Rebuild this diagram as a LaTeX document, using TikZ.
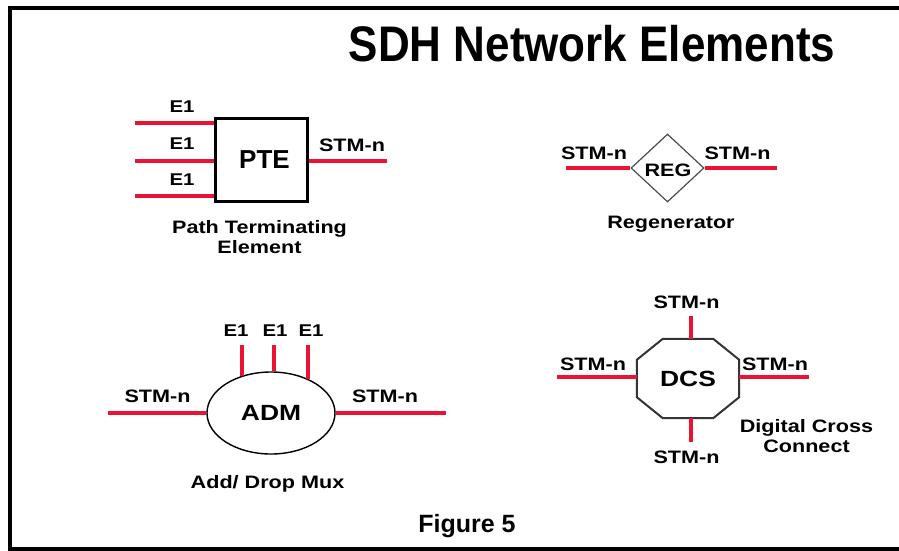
\documentclass[tikz,border=0pt]{standalone}
\usepackage{fontspec}
\setmainfont{Liberation Sans}
\newfontfamily\titlefont[FakeStretch=0.88]{Liberation Sans Bold}
\newfontfamily\lblfont[FakeStretch=1.2]{Liberation Sans Bold}
\usetikzlibrary{shapes.geometric}
\definecolor{sdhred}{RGB}{236,18,52}

\begin{document}
\begin{tikzpicture}[x=1pt, y=-1pt,
        sig/.style={draw=sdhred, line width=3.5pt},
        lbl/.style={font=\lblfont\fontsize{18}{20}\selectfont, inner sep=0pt, anchor=base},
        small/.style={font=\lblfont\fontsize{17}{19}\selectfont, inner sep=0pt, anchor=base},
        big/.style={font=\lblfont\fontsize{22}{24}\selectfont}]
    \useasboundingbox (0,0) rectangle (899,551);
    \draw[line width=4pt] (930,8.5) -- (10,8.5) -- (10,548.5) -- (930,548.5);
    \node[font=\titlefont\fontsize{50}{52}\selectfont, inner sep=0pt, anchor=base] (title) at (592,62) {SDH Network Elements};

    % path terminating element
    \node[draw, line width=2.5pt, minimum width=92pt, minimum height=83pt,
        font=\bfseries\fontsize{26}{28}\selectfont] (pte) at (261.5,160) {\hspace{6pt}PTE};
    \coordinate (e1a) at (135,123);
    \coordinate (e1b) at (135,161);
    \coordinate (e1c) at (135,196);
    \coordinate (pteout) at (387,161);
    \draw[sig] (e1a) -- (e1a -| pte.west);
    \draw[sig] (e1b) -- (e1b -| pte.west);
    \draw[sig] (e1c) -- (e1c -| pte.west);
    \draw[sig] (pte.east |- pteout) -- (pteout);
    \node[small] (e1alab) at (182,112) {E1};
    \node[small] (e1blab) at (182,149) {E1};
    \node[small] (e1clab) at (182,185) {E1};
    \node[lbl] (pteoutlab) at (352,151) {STM-n};
    \node[lbl] (ptecap1) at (259.5,233) {Path Terminating};
    \node[lbl] (ptecap2) at (259.5,253) {Element};

    % regenerator
    \node[diamond, draw=black!70, line width=1.2pt, inner sep=0pt, aspect=1.07,
        minimum width=73pt, minimum height=68pt] (reg) at (667.5,168) {};
    \node[lbl] (reglab) at (668,176) {REG};
    \coordinate (regl) at (566,168);
    \coordinate (regr) at (777,168);
    \draw[sig] (regl) -- (reg.west);
    \draw[sig] (reg.east) -- (regr);
    \node[lbl] (reglablft) at (594,159) {STM-n};
    \node[lbl] (reglabrgt) at (737.5,159) {STM-n};
    \node[lbl] (regcap) at (671,228) {Regenerator};

    % add/drop mux
    \node[ellipse, draw, line width=1.4pt, minimum width=128pt, minimum height=82pt, big] (adm) at (271,413) {ADM};
    \coordinate (adml) at (108,413);
    \coordinate (admr) at (446,413);
    \draw[sig] (adml) -- (adm.west);
    \draw[sig] (adm.east) -- (admr);
    \coordinate (tribl) at (242,345);
    \coordinate (tribm) at (274,345);
    \coordinate (tribr) at (308,345);
    \draw[sig] (tribl) -- (tribl |- adm.129);
    \draw[sig] (tribm) -- (tribm |- adm.86);
    \draw[sig] (tribr) -- (tribr |- adm.43);
    \node[small] (triblab) at (236,336) {E1};
    \node[small] (tribmlab) at (275,336) {E1};
    \node[small] (tribrlab) at (311,336) {E1};
    \node[lbl] (admllab) at (157.5,402) {STM-n};
    \node[lbl] (admrlab) at (385,402) {STM-n};
    \node[lbl] (admcap) at (267.5,488) {Add/ Drop Mux};

    % digital cross connect
    \node[minimum width=102pt, minimum height=79pt, big] (dcs) at (688,378.5) {DCS};
    \draw[black!80, line width=2pt] ([xshift=26pt]dcs.north west) -- ([xshift=-26pt]dcs.north east)
        -- ([yshift=-21pt]dcs.north east) -- ([yshift=21pt]dcs.south east)
        -- ([xshift=-26pt]dcs.south east) -- ([xshift=26pt]dcs.south west)
        -- ([yshift=21pt]dcs.south west) -- ([yshift=-21pt]dcs.north west) -- cycle;
    \coordinate (dcsl) at (557,377);
    \coordinate (dcsr) at (809,377);
    \coordinate (dcst) at (691,316);
    \coordinate (dcsb) at (691,442);
    \draw[sig] (dcsl) -- (dcsl -| dcs.west);
    \draw[sig] (dcsr -| dcs.east) -- (dcsr);
    \draw[sig] (dcst) -- (dcst |- dcs.north);
    \draw[sig] (dcsb |- dcs.south) -- (dcsb);
    \node[lbl] (dcstlab) at (686.5,308) {STM-n};
    \node[lbl] (dcsllab) at (593,370) {STM-n};
    \node[lbl] (dcsrlab) at (775,370) {STM-n};
    \node[lbl] (dcsblab) at (686.5,463) {STM-n};
    \node[lbl] (dcscap1) at (806.5,432) {Digital Cross};
    \node[lbl] (dcscap2) at (806.5,452) {Connect};

    \node[font=\bfseries\fontsize{25}{27}\selectfont, inner sep=0pt, anchor=base] (fig) at (467,532) {Figure 5};
\end{tikzpicture}
\end{document}
